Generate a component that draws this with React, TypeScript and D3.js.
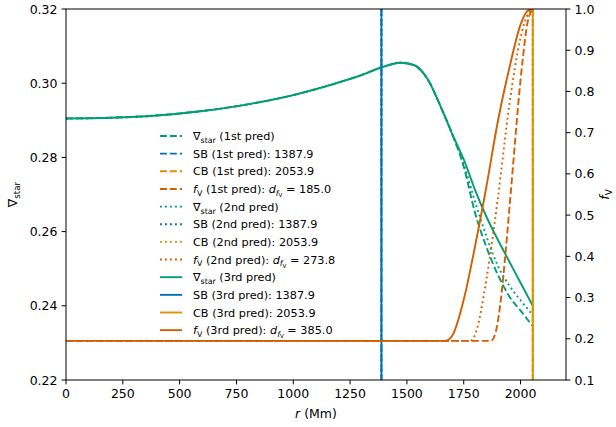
import React from "react";
import * as d3 from "d3";

// ---- data ----
const rCommon = [0, 200, 400, 600, 800, 1000, 1200, 1300, 1400, 1470, 1530, 1590, 1650, 1700];
const gradCommon = [0.2905, 0.2907, 0.2913, 0.2925, 0.2943, 0.2968, 0.3002, 0.3022, 0.3045, 0.3055, 0.3049, 0.3012, 0.2935, 0.2862];
const rTail = [1750, 1800, 1850, 1900, 1950, 2000, 2053.9];
const gradTail1 = [0.2775, 0.265, 0.2558, 0.2484, 0.2426, 0.2387, 0.2345];
const gradTail2 = [0.2782, 0.268, 0.2587, 0.2508, 0.2455, 0.2415, 0.2375];
const gradTail3 = [0.2795, 0.2712, 0.264, 0.2578, 0.252, 0.2462, 0.24];

const rFv1 = [0, 1869, 1890, 1910, 1930, 1950, 1970, 1990, 2010, 2030, 2053.9];
const fv1 = [0.195, 0.195, 0.215, 0.28, 0.385, 0.51, 0.64, 0.77, 0.88, 0.965, 1.0];
const rFv2 = [0, 1780, 1800, 1850, 1900, 1950, 2000, 2030, 2053.9];
const fv2 = [0.195, 0.195, 0.21, 0.345, 0.54, 0.765, 0.93, 0.985, 1.0];
const rFv3 = [0, 1669, 1700, 1750, 1800, 1850, 1900, 1950, 2000, 2030, 2053.9];
const fv3 = [0.195, 0.195, 0.208, 0.295, 0.425, 0.57, 0.727, 0.855, 0.962, 0.995, 1.0];

const predNames = ["1st", "2nd", "3rd"];
const sbValues = [1387.9, 1387.9, 1387.9];
const cbValues = [2053.9, 2053.9, 2053.9];
const dfvValues = [185.0, 273.8, 385.0];

const xTicks = [0, 250, 500, 750, 1000, 1250, 1500, 1750, 2000];
const yLeftTicks = [0.22, 0.24, 0.26, 0.28, 0.3, 0.32];
const yRightTicks = [0.1, 0.2, 0.3, 0.4, 0.5, 0.6, 0.7, 0.8, 0.9, 1.0];

// ---- styles ----
const C_GREEN = "#029e73";
const C_BLUE = "#0173b2";
const C_ORANGE = "#de8f05";
const C_VERM = "#d55e00";
const LW = 1.9;
const DASHES = ["6.9,3", "1.9,3.1", ""];
const FONT = "DejaVu Sans, sans-serif";

const W = 616, H = 427;
const L = 66, R = 566, T = 9, B = 380;

export default function App() {
  const x = d3.scaleLinear().domain([0, 2200]).range([L, R]);
  const yL = d3.scaleLinear().domain([0.22, 0.32]).range([B, T]);
  const yR = d3.scaleLinear().domain([0.1, 1.0]).range([B, T]);

  const lineL = d3.line<[number, number]>().x(d => x(d[0])).y(d => yL(d[1])).curve(d3.curveMonotoneX);
  const lineR = d3.line<[number, number]>().x(d => x(d[0])).y(d => yR(d[1])).curve(d3.curveMonotoneX);

  const common: [number, number][] = rCommon.map((r, i) => [r, gradCommon[i]]);
  const tails = [gradTail1, gradTail2, gradTail3];
  const gradPaths = tails.map(t => lineL(common.concat(rTail.map((r, i) => [r, t[i]] as [number, number])))!);
  const fvData = [[rFv1, fv1], [rFv2, fv2], [rFv3, fv3]];
  const fvPaths = fvData.map(([rs, vs]) => lineR(rs.map((r, i) => [r, vs[i]] as [number, number]))!);

  const legendRows: { color: string; dash: string; label: React.ReactNode }[] = [];
  predNames.forEach((p, i) => {
    const dash = DASHES[i];
    legendRows.push({ color: C_GREEN, dash, label: (<>
      <tspan>∇</tspan><tspan fontSize="0.7em" dy="3">star</tspan><tspan dy="-3">{` (${p} pred)`}</tspan>
    </>) });
    legendRows.push({ color: C_BLUE, dash, label: <tspan>{`SB (${p} pred): ${sbValues[i].toFixed(1)}`}</tspan> });
    legendRows.push({ color: C_ORANGE, dash, label: <tspan>{`CB (${p} pred): ${cbValues[i].toFixed(1)}`}</tspan> });
    legendRows.push({ color: C_VERM, dash, label: (<>
      <tspan fontStyle="italic">f</tspan><tspan fontSize="0.7em" dy="2.5">V</tspan>
      <tspan dy="-2.5">{` (${p} pred): `}</tspan>
      <tspan fontStyle="italic">d</tspan><tspan fontSize="0.7em" fontStyle="italic" dy="2.5">f</tspan>
      <tspan fontSize="0.5em" dy="1.5">V</tspan>
      <tspan dy="-4">{` = ${dfvValues[i].toFixed(1)}`}</tspan>
    </>) });
  });
  const legY0 = 136, legDy = 17.65;

  return (
    <svg width={W} height={H} style={{ position: "absolute", left: 0, top: 0, background: "#fff" }} fontFamily={FONT}>
      <rect x={0} y={0} width={W} height={H} fill="#fff" />
      <defs>
        <clipPath id="plotclip"><rect x={L} y={T} width={R - L} height={B - T} /></clipPath>
      </defs>
      <g clipPath="url(#plotclip)">
        {[0, 1, 2].map(i => (
          <g key={i}>
            <path d={gradPaths[i]} fill="none" stroke={C_GREEN} strokeWidth={LW} strokeDasharray={DASHES[i]} />
            <line x1={x(sbValues[i])} x2={x(sbValues[i])} y1={T} y2={B} stroke={C_BLUE} strokeWidth={LW} strokeDasharray={DASHES[i]} />
            <line x1={x(cbValues[i])} x2={x(cbValues[i])} y1={T} y2={B} stroke={C_ORANGE} strokeWidth={LW} strokeDasharray={DASHES[i]} />
          </g>
        ))}
        {[0, 1, 2].map(i => (
          <path key={i} d={fvPaths[i]} fill="none" stroke={C_VERM} strokeWidth={LW} strokeDasharray={DASHES[i]} />
        ))}
      </g>
      {/* spines */}
      <rect x={L} y={T} width={R - L} height={B - T} fill="none" stroke="#000" strokeWidth={1} />
      {/* bottom ticks */}
      {xTicks.map(t => (
        <g key={t}>
          <line x1={x(t)} x2={x(t)} y1={B} y2={B + 4.4} stroke="#000" />
          <text x={x(t)} y={B + 8.5} dy="0.76em" textAnchor="middle" fontSize={12.5}>{t}</text>
        </g>
      ))}
      {yLeftTicks.map(t => (
        <g key={t}>
          <line x1={L - 4.4} x2={L} y1={yL(t)} y2={yL(t)} stroke="#000" />
          <text x={L - 8.5} y={yL(t)} dy="0.36em" textAnchor="end" fontSize={12.5}>{t.toFixed(2)}</text>
        </g>
      ))}
      {yRightTicks.map(t => (
        <g key={t}>
          <line x1={R} x2={R + 4.4} y1={yR(t)} y2={yR(t)} stroke="#000" />
          <text x={R + 8.5} y={yR(t)} dy="0.36em" textAnchor="start" fontSize={12.5}>{t.toFixed(1)}</text>
        </g>
      ))}
      {/* axis labels */}
      <text x={(L + R) / 2} y={418} textAnchor="middle" fontSize={12.5}>
        <tspan fontStyle="italic">r</tspan><tspan> (Mm)</tspan>
      </text>
      <text transform={`translate(17,${(T + B) / 2}) rotate(-90)`} textAnchor="middle" fontSize={12.5}>
        <tspan>∇</tspan><tspan fontSize="0.7em" dy="3">star</tspan>
      </text>
      <text transform={`translate(609,${(T + B) / 2}) rotate(-90)`} textAnchor="middle" fontSize={12.5}>
        <tspan fontStyle="italic">f</tspan><tspan fontSize="0.7em" dy="3">V</tspan>
      </text>
      {/* legend */}
      {legendRows.map((row, i) => {
        const yy = legY0 + i * legDy;
        return (
          <g key={i}>
            <line x1={160} x2={182} y1={yy} y2={yy} stroke={row.color} strokeWidth={LW} strokeDasharray={row.dash} />
            <text x={193} y={yy} dy="0.36em" fontSize={11.25}>{row.label}</text>
          </g>
        );
      })}
    </svg>
  );
}
